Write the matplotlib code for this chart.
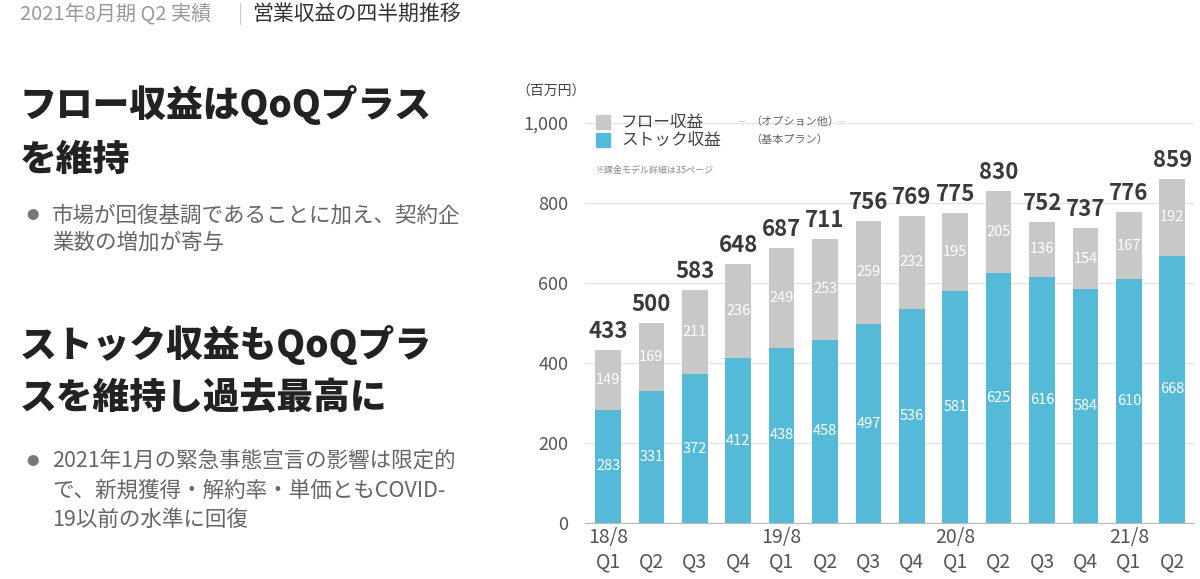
import matplotlib.pyplot as plt
from matplotlib.patches import Rectangle

plt.rcParams['font.family'] = ['Noto Sans CJK JP', 'DejaVu Sans']

years = ['18/8', '', '', '', '19/8', '', '', '', '20/8', '', '', '', '21/8', '']
quarters = ['Q1', 'Q2', 'Q3', 'Q4'] * 3 + ['Q1', 'Q2']
stock = [283, 331, 372, 412, 438, 458, 497, 536, 581, 625, 616, 584, 610, 668]
flow = [149, 169, 211, 236, 249, 253, 259, 232, 195, 205, 136, 154, 167, 192]
totals = [433, 500, 583, 648, 687, 711, 756, 769, 775, 830, 752, 737, 776, 859]

BLUE = '#55BAD8'
GRAY = '#C8C8C8'
W, H = 1200, 579


def px(x, y):
    return x / W, 1 - y / H


fig = plt.figure(figsize=(12, 5.79), dpi=100)
fig.patch.set_facecolor('white')

# header
fig.text(*px(20, 14), '2021年8月期 Q2 実績', fontsize=14.5, color='#999999', va='center')
fig.text(*px(238, 14), '|', fontsize=14, color='#cccccc', va='center')
fig.text(*px(252, 14), '営業収益の四半期推移', fontsize=15, color='#333333', va='center')

# left text
head = dict(fontsize=26.5, fontweight='black', color='#222222', va='center')
body = dict(fontsize=15.5, color='#666666', va='center')
fig.text(*px(20, 105), 'フロー収益はQoQプラス', **head)
fig.text(*px(20, 160), 'を維持', **head)
fig.text(*px(26, 216), '●', fontsize=9, color='#777777', va='center')
fig.text(*px(52, 216), '市場が回復基調であることに加え、契約企', **body)
fig.text(*px(52, 243), '業数の増加が寄与', **body)
fig.text(*px(20, 345), 'ストック収益もQoQプラ', **head)
fig.text(*px(20, 398), 'スを維持し過去最高に', **head)
fig.text(*px(26, 461), '●', fontsize=9, color='#777777', va='center')
fig.text(*px(52, 461), '2021年1月の緊急事態宣言の影響は限定的', **body)
fig.text(*px(52, 491), 'で、新規獲得・解約率・単価ともCOVID-', **body)
fig.text(*px(52, 520), '19以前の水準に回復', **body)

# chart
ax = fig.add_axes([585 / W, 1 - 523 / H, 609 / W, 400 / H])
x = list(range(len(stock)))
ax.bar(x, stock, width=0.59, color=BLUE, zorder=2)
ax.bar(x, flow, width=0.59, bottom=stock, color=GRAY, zorder=2)

for i in x:
    ax.text(i, stock[i] / 2, str(stock[i]), ha='center', va='center',
            color='white', fontsize=10.5, zorder=3)
    ax.text(i, stock[i] + flow[i] / 2, str(flow[i]), ha='center', va='center',
            color='white', fontsize=10.5, zorder=3)
    ax.annotate(str(totals[i]), (i, stock[i] + flow[i]), xytext=(0, 5),
                textcoords='offset points', ha='center', va='bottom',
                fontsize=16, fontweight='bold', color='#3a3a3a',
                annotation_clip=False)

ax.set_xlim(-0.53, 13.5)
ax.set_ylim(0, 1000)
ax.set_yticks([0, 200, 400, 600, 800, 1000])
ax.set_yticklabels(['0', '200', '400', '600', '800', '1,000'])
ax.yaxis.grid(True, color='#e3e3e3', linewidth=1, zorder=0)
ax.set_xticks(x)
ax.set_xticklabels([f'{y}\n{q}' for y, q in zip(years, quarters)])
ax.tick_params(axis='both', length=0, labelsize=13, labelcolor='#555555')
ax.tick_params(axis='x', pad=3, labelsize=14)
ax.tick_params(axis='y', pad=12)
for s in ['top', 'right', 'left']:
    ax.spines[s].set_visible(False)
ax.spines['bottom'].set_color('#bbbbbb')
ax.spines['bottom'].set_zorder(3)

# unit and legend
fig.text(*px(516, 92), '（百万円）', fontsize=10, color='#444444', va='center')
fig.patches.append(Rectangle(px(596, 129), 14 / W, 14 / H, color=GRAY,
                             transform=fig.transFigure, figure=fig))
fig.patches.append(Rectangle(px(596, 147), 14 / W, 14 / H, color=BLUE,
                             transform=fig.transFigure, figure=fig))
fig.text(*px(621, 122), 'フロー収益', fontsize=12, color='#444444', va='center')
fig.text(*px(621, 140), 'ストック収益', fontsize=12, color='#444444', va='center')
fig.text(*px(737, 122), '—', fontsize=7, color='#cccccc', va='center')
fig.text(*px(750, 122), '（オプション他）', fontsize=8, color='#666666', va='center')
fig.text(*px(837, 122), '—', fontsize=7, color='#cccccc', va='center')
fig.text(*px(750, 140), '（基本プラン）', fontsize=8, color='#666666', va='center')
fig.text(*px(596, 170), '※課金モデル詳細は35ページ', fontsize=6.5, color='#888888', va='center')

fig.savefig('out.png', dpi=100, facecolor='white')
